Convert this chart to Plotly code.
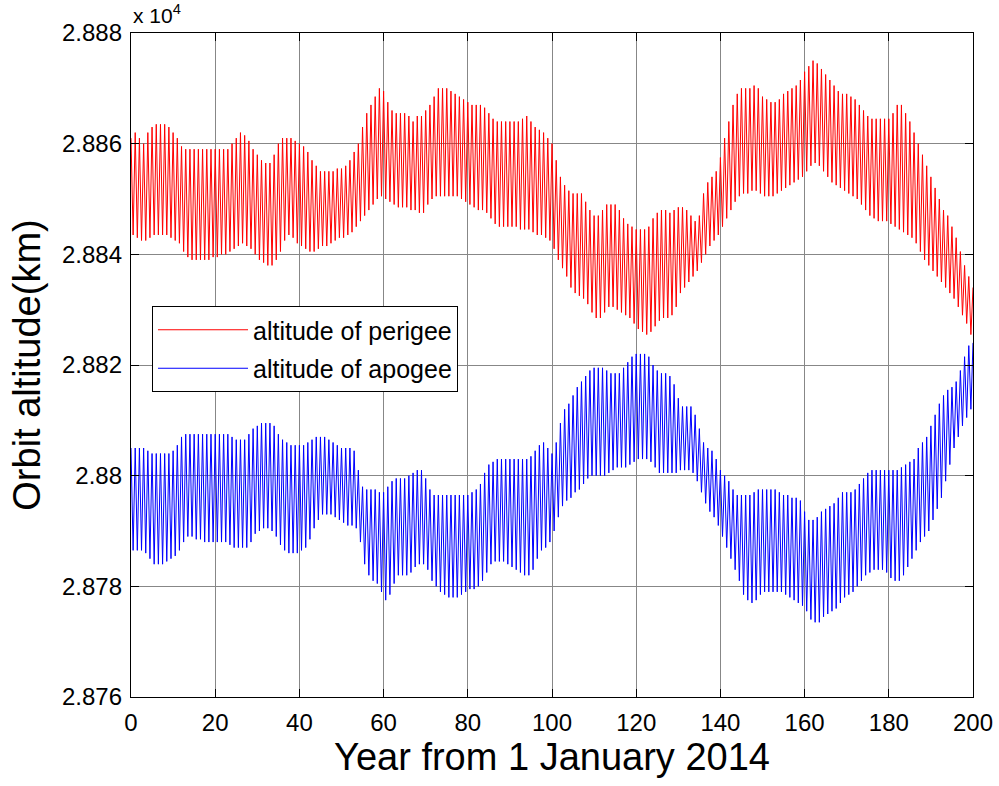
import plotly.graph_objects as go

# Perigee altitude (km): local maxima at x = 0,1,...,200 and minima at x = 0.5,1.5,...,199.5
perigee_peaks = [
    28861, 28862, 28861, 28860, 28862, 28863, 28863.5, 28863.5, 28863.5, 28863,
    28862, 28861, 28859.5, 28859, 28859, 28859, 28859, 28859, 28859, 28859,
    28859, 28859, 28859, 28859, 28860, 28861, 28862, 28861.5, 28860.5, 28859,
    28858, 28857, 28856.5, 28856.5, 28858, 28860, 28861, 28861, 28861, 28860.5,
    28860, 28859.5, 28858.5, 28857, 28856, 28855, 28855, 28855, 28855, 28855.5,
    28855.5, 28856, 28857, 28858.5, 28860, 28863, 28865.5, 28867, 28868.5, 28870,
    28869.5, 28867.5, 28866, 28865.5, 28865.5, 28865.5, 28865, 28864, 28865, 28865,
    28866, 28867, 28868.5, 28870, 28870, 28870, 28869.5, 28869, 28868.5, 28868,
    28867.5, 28867, 28867, 28867, 28866.5, 28865.5, 28864.5, 28864, 28864, 28864,
    28864, 28864, 28864, 28864.5, 28865, 28864, 28863, 28862.5, 28862, 28861,
    28860, 28857, 28854, 28852.5, 28851.5, 28851, 28851, 28851, 28849.5, 28848,
    28847, 28847, 28848, 28849, 28849, 28849, 28848, 28846.5, 28845.5, 28845,
    28844.5, 28844.5, 28844.5, 28845, 28846.5, 28847.5, 28848, 28848, 28847.5, 28848,
    28848.5, 28848.5, 28848, 28847, 28846, 28847, 28851, 28853, 28854, 28855,
    28857.5, 28861, 28864, 28867, 28869, 28870, 28870, 28870, 28870.5, 28870,
    28868.5, 28868, 28867.5, 28867.5, 28868, 28869, 28869.5, 28870, 28870.5, 28871.5,
    28873, 28874, 28875, 28874.5, 28873.5, 28872.5, 28871.5, 28870.5, 28869.5, 28869,
    28869, 28868.5, 28868, 28867, 28866, 28865, 28864.5, 28864.5, 28864.5, 28864.5,
    28864.5, 28865.5, 28867, 28867, 28865.5, 28864, 28862, 28860, 28858, 28856,
    28854, 28852, 28850, 28848, 28847, 28845, 28843, 28840.5, 28838, 28836,
    28834,
]
perigee_troughs = [
    28843.5, 28843, 28842.5, 28842.5, 28843, 28843.5, 28843.5, 28843.5, 28843.5, 28843,
    28842.5, 28842, 28840.5, 28839.5, 28839, 28839, 28839, 28839, 28839, 28839.5,
    28839.5, 28840, 28840, 28840.5, 28841, 28841.5, 28842, 28841.5, 28841, 28840,
    28839, 28838.5, 28838, 28838, 28839, 28840.5, 28842.5, 28843.5, 28843, 28842,
    28841.5, 28841, 28840.5, 28840.5, 28841, 28841.5, 28841.5, 28842, 28842.5, 28843,
    28843, 28843.5, 28844, 28845, 28846, 28847, 28848, 28849, 28850, 28850.5,
    28850, 28849.5, 28849, 28848.5, 28848.5, 28848.5, 28848, 28848, 28847.5, 28847.5,
    28849, 28850, 28850.5, 28850.5, 28850.5, 28850.5, 28850.5, 28850.5, 28850, 28849.5,
    28849, 28848.5, 28848, 28848, 28847.5, 28846.5, 28845.5, 28845, 28845, 28845,
    28845, 28845, 28844.5, 28844.5, 28844.5, 28844, 28843.5, 28843.5, 28843, 28842.5,
    28841, 28839, 28837.5, 28836, 28834, 28833, 28832.5, 28832, 28831, 28829.5,
    28828.5, 28828.5, 28829.5, 28830.5, 28830.5, 28830, 28829.5, 28829, 28828.5, 28827.5,
    28826.5, 28826, 28825.5, 28826, 28827, 28828, 28828.5, 28828.5, 28829, 28830.5,
    28833, 28834, 28835, 28836, 28837, 28838.5, 28840, 28841.5, 28842.5, 28843.5,
    28845, 28846.5, 28848, 28849.5, 28850.5, 28851, 28851, 28851.5, 28851.5, 28851,
    28850.5, 28850.5, 28850.5, 28851, 28851.5, 28852, 28852.5, 28853, 28853.5, 28854,
    28855, 28856, 28856.5, 28856, 28855, 28854, 28853, 28852.5, 28852, 28851.5,
    28851, 28850.5, 28850, 28849, 28848, 28847, 28846.5, 28846, 28846, 28846,
    28845.5, 28845, 28844.5, 28844, 28843.5, 28843, 28842, 28840.5, 28839, 28838,
    28837, 28836, 28835, 28834, 28833, 28832, 28830.5, 28829, 28827.5, 28825.5,
]

# Apogee altitude (km): local maxima at x = 0,1,...,200 and minima at x = 0.5,...,199.5
apogee_peaks = [
    28805, 28805, 28805, 28805, 28804.5, 28804, 28804, 28804, 28804, 28804,
    28804.5, 28805.5, 28807, 28807.5, 28807.5, 28807.5, 28807.5, 28807.5, 28807.5, 28807.5,
    28807.5, 28807.5, 28807.5, 28807.5, 28807, 28806.5, 28806.5, 28806.5, 28807.5, 28808.5,
    28809, 28809.5, 28809.5, 28809.5, 28809, 28807.5, 28806.5, 28806, 28805.5, 28805.5,
    28805.5, 28805.5, 28806, 28806.5, 28807, 28807, 28807, 28806.5, 28806, 28805.5,
    28805, 28805, 28805, 28804.5, 28801, 28798, 28797.5, 28797.5, 28797.5, 28797,
    28797, 28798, 28799, 28799.5, 28799.5, 28799.5, 28800, 28800.5, 28801, 28801,
    28799.5, 28797.5, 28796.5, 28796.5, 28796.5, 28796.5, 28796.5, 28796.5, 28796.5, 28796.5,
    28796.5, 28797, 28797.5, 28798.5, 28800.5, 28802, 28802.5, 28803, 28803, 28803,
    28803, 28803, 28803, 28803, 28803, 28803.5, 28804.5, 28805.5, 28806, 28805,
    28804, 28806, 28809.5, 28812, 28813, 28814.5, 28816, 28817, 28818, 28819,
    28819.5, 28819.5, 28819.5, 28819, 28818.5, 28818.5, 28818.5, 28819.5, 28820.5, 28821.5,
    28822, 28822, 28822, 28821.5, 28820, 28819, 28818.5, 28818.5, 28818, 28816.5,
    28814, 28812.5, 28812.5, 28812.5, 28811, 28808.5, 28806, 28805, 28804.5, 28803,
    28801, 28800, 28799, 28797.5, 28796.5, 28796.5, 28796.5, 28796.5, 28797, 28797.5,
    28797.5, 28797.5, 28797.5, 28797.5, 28797, 28796.5, 28796.5, 28796, 28796, 28795.5,
    28793.5, 28792, 28792, 28792.5, 28793.5, 28794, 28794.5, 28795, 28796, 28797,
    28797, 28797, 28797.5, 28798.5, 28799.5, 28800.5, 28801, 28801, 28801, 28801,
    28801, 28801, 28801, 28801.5, 28802, 28802.5, 28803, 28805, 28806, 28807,
    28809, 28811, 28813, 28814.5, 28815.5, 28816, 28817, 28819, 28821.5, 28823.5,
    28824,
]
apogee_troughs = [
    28786.5, 28786.5, 28786.5, 28786, 28785, 28784, 28784, 28784, 28784.5, 28785,
    28785.5, 28786.5, 28788, 28789, 28789, 28788.5, 28788.5, 28788, 28788, 28788,
    28788, 28788, 28788, 28787.5, 28787, 28787, 28787, 28787, 28788, 28789.5,
    28790, 28790.5, 28790.5, 28790, 28789, 28787.5, 28786.5, 28786, 28786, 28786,
    28786.5, 28787, 28788.5, 28790.5, 28792, 28793, 28793, 28793, 28792.5, 28792,
    28791.5, 28791, 28791, 28790.5, 28788, 28784, 28782, 28781, 28780.5, 28779,
    28777.5, 28778.5, 28780.5, 28782, 28782, 28782, 28782.5, 28783.5, 28784, 28784,
    28783, 28781, 28780, 28779, 28778.5, 28778, 28778, 28778, 28778.5, 28779,
    28779.5, 28779.5, 28780, 28781, 28782.5, 28784, 28784.5, 28784.5, 28784.5, 28784,
    28783.5, 28783, 28782.5, 28782, 28782, 28783, 28785, 28786.5, 28787, 28788,
    28790, 28792.5, 28794.5, 28795.5, 28796, 28797, 28797.5, 28798.5, 28799.5, 28800,
    28800, 28800, 28800, 28800.5, 28801, 28801.5, 28801.5, 28801.5, 28802, 28802.5,
    28803, 28803, 28803, 28802.5, 28801.5, 28800.5, 28800.5, 28800.5, 28800.5, 28800.5,
    28801, 28801, 28801, 28800.5, 28799, 28797, 28795, 28793.5, 28792.5, 28791,
    28789, 28787, 28785, 28783, 28781, 28778.5, 28777.5, 28777, 28777.5, 28778.5,
    28779, 28779, 28779, 28779, 28779, 28778.5, 28778, 28777.5, 28777, 28776.5,
    28775.5, 28774, 28773.5, 28773.5, 28774.5, 28775, 28775.5, 28776, 28777, 28778,
    28778.5, 28779, 28780, 28781, 28782, 28782.5, 28783, 28783, 28783, 28782.5,
    28781.5, 28781, 28781, 28782, 28783.5, 28785, 28786.5, 28788, 28789, 28790,
    28792, 28794, 28796, 28799, 28802, 28805, 28807, 28809, 28810.5, 28812,
]

y_tick_values = [2.876, 2.878, 2.880, 2.882, 2.884, 2.886, 2.888]
y_tick_labels = ["2.876", "2.878", "2.88", "2.882", "2.884", "2.886", "2.888"]
x_tick_values = [0, 20, 40, 60, 80, 100, 120, 140, 160, 180, 200]

series_names = ["altitude of perigee", "altitude of apogee"]
series_colors = ["rgb(255,0,0)", "rgb(0,0,255)"]


def zigzag(peaks, troughs):
    xs, ys = [], []
    for i in range(len(troughs)):
        xs += [i, i + 0.5]
        ys += [peaks[i] / 1e4, troughs[i] / 1e4]
    xs.append(len(troughs))
    ys.append(peaks[len(troughs)] / 1e4)
    return xs, ys


FONT = "Liberation Sans, Arial, sans-serif"

fig = go.Figure()
for k, (pk, tr) in enumerate([(perigee_peaks, perigee_troughs), (apogee_peaks, apogee_troughs)]):
    xs, ys = zigzag(pk, tr)
    fig.add_trace(go.Scatter(
        x=xs, y=ys, mode="lines", name=series_names[k],
        line=dict(color=series_colors[k], width=1),
        legendgroup=series_names[k],
    ))

axis_common = dict(
    showline=True, linecolor="black", linewidth=1.3,
    mirror="allticks", ticks="inside", ticklen=8, tickwidth=1, tickcolor="black",
    showgrid=True, gridcolor="rgb(135,135,135)", gridwidth=1,
    zeroline=False,
    tickfont=dict(family=FONT, size=24, color="black"),
)

fig.update_layout(
    width=999, height=786,
    margin=dict(l=131, r=26, t=33, b=89, autoexpand=False),
    paper_bgcolor="white", plot_bgcolor="white",
    font=dict(family=FONT, color="black"),
    showlegend=True,
    legend=dict(
        x=(152 - 131) / 842, y=(697 - 306) / 664,
        xanchor="left", yanchor="top",
        bgcolor="white", bordercolor="black", borderwidth=1,
        font=dict(family=FONT, size=25, color="black"),
        itemwidth=90, tracegroupgap=3,
    ),
    xaxis=dict(
        range=[0, 200], tickvals=x_tick_values,
        title=dict(text="Year from 1 January 2014", font=dict(family=FONT, size=38), standoff=8),
        ticklabelstandoff=4,
        **axis_common,
    ),
    yaxis=dict(
        range=[2.876, 2.888], tickvals=y_tick_values, ticktext=y_tick_labels,
        title=dict(text="Orbit altitude(km)", font=dict(family=FONT, size=38), standoff=9),
        ticklabelstandoff=3,
        **axis_common,
    ),
    annotations=[dict(
        text="x 10<sup>4</sup>", x=0, y=1, xref="paper", yref="paper",
        xanchor="left", yanchor="bottom", yshift=4, showarrow=False,
        font=dict(family=FONT, size=21, color="black"),
    )],
)

fig.write_html(
    "out.html",
    config={"displayModeBar": False},
    post_script="document.body.style.margin='0';document.body.style.overflow='hidden';",
)
